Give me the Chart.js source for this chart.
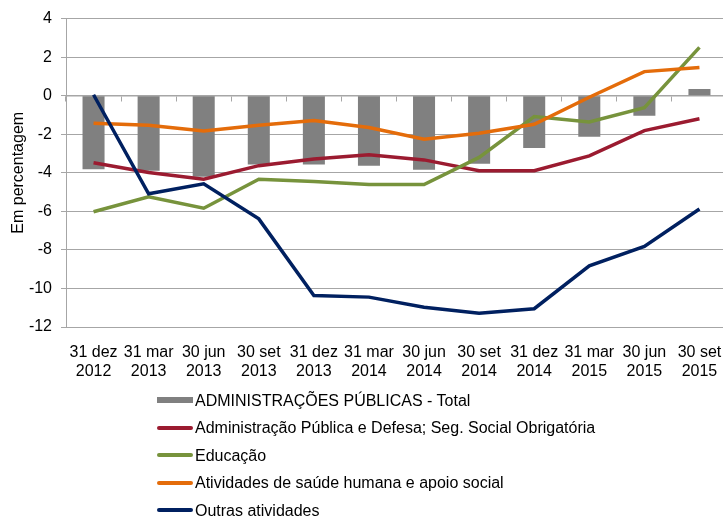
<!DOCTYPE html>
<html>
<head>
<meta charset="utf-8">
<script src="https://cdn.jsdelivr.net/npm/chart.js@4/dist/chart.umd.min.js"></script>
<style>
  html, body { margin: 0; padding: 0; overflow: hidden; background: #fff; }
  #wrap { position: relative; width: 723px; height: 517px; overflow: hidden; }
  #c { position: absolute; left: 0; top: 0; }
  #legend { position: absolute; left: 157px; top: 386.5px; font-family: "Liberation Sans", Arial, sans-serif; font-size: 16px; color: #000; }
  .item { position: relative; height: 27.5px; line-height: 27.5px; white-space: nowrap; }
  .sym { position: absolute; left: 0; width: 36px; }
  .txt { position: absolute; left: 38px; top: 0; }
</style>
</head>
<body>
<div id="wrap">
  <canvas id="c" width="728" height="517"></canvas>
  <div id="legend"></div>
</div>
<script>
const periods = ["31 dez","31 mar","30 jun","30 set","31 dez","31 mar","30 jun","30 set","31 dez","31 mar","30 jun","30 set"];
const years = ["2012","2013","2013","2013","2013","2014","2014","2014","2014","2015","2015","2015"];
const seriesNames = [
  "ADMINISTRAÇÕES PÚBLICAS - Total",
  "Administração Pública e Defesa; Seg. Social Obrigatória",
  "Educação",
  "Atividades de saúde humana e apoio social",
  "Outras atividades"
];
const total = [-3.81, -3.90, -4.20, -3.57, -3.57, -3.63, -3.84, -3.53, -2.71, -2.13, -1.04, 0.35];
const adminPublica = [-3.48, -3.98, -4.33, -3.63, -3.28, -3.07, -3.33, -3.89, -3.89, -3.12, -1.81, -1.20];
const educacao = [-6.02, -5.24, -5.84, -4.33, -4.45, -4.61, -4.61, -3.20, -1.08, -1.36, -0.62, 2.51];
const saude = [-1.43, -1.53, -1.83, -1.53, -1.29, -1.65, -2.26, -1.95, -1.48, -0.08, 1.25, 1.46];
const outras = [0.05, -5.09, -4.57, -6.39, -10.37, -10.45, -10.97, -11.28, -11.05, -8.83, -7.82, -5.88];

const labels = periods.map((p, i) => [p, years[i]]);
const colors = ["#808080", "#9b1b30", "#77933c", "#e46c0a", "#002060"];
const FONT = "'Liberation Sans', Arial, sans-serif";
const GRID = "#a6a6a6";

function lineDs(i, data, order) {
  return { type: "line", label: seriesNames[i], data, borderColor: colors[i], backgroundColor: colors[i],
    borderWidth: 3.5, pointRadius: 0, tension: 0, order, xAxisID: "x", borderJoinStyle: "miter" };
}

const chart = new Chart(document.getElementById("c"), {
  data: {
    labels,
    datasets: [
      { type: "bar", label: seriesNames[0], data: total, backgroundColor: colors[0], borderWidth: 0,
        barPercentage: 0.4, categoryPercentage: 1.0, order: 5, xAxisID: "x" },
      lineDs(1, adminPublica, 4),
      lineDs(2, educacao, 3),
      lineDs(3, saude, 2),
      lineDs(4, outras, 1)
    ]
  },
  options: {
    responsive: false,
    animation: false,
    devicePixelRatio: 1,
    layout: { padding: { top: 18, right: 1, bottom: 0, left: 0 } },
    plugins: { legend: { display: false }, tooltip: { enabled: false } },
    scales: {
      x: {
        type: "category", position: "bottom", offset: true,
        grid: { display: false, drawTicks: false },
        border: { display: false },
        ticks: { color: "#000", font: { family: FONT, size: 16 }, padding: 16, maxRotation: 0, autoSkip: false },
        afterFit: (s) => { s.height = 190; s.paddingLeft = 0; s.paddingRight = 0; }
      },
      x2: {
        type: "category", position: { y: 0 }, offset: true,
        grid: { offset: true, drawOnChartArea: false, drawTicks: true, tickLength: 5, color: GRID, lineWidth: 1 },
        border: { display: true, color: GRID, width: 1.5 },
        ticks: { display: false },
        afterFit: (s) => { s.paddingLeft = 0; s.paddingRight = 0; }
      },
      y: {
        min: -12, max: 4,
        ticks: { stepSize: 2, color: "#000", font: { family: FONT, size: 16 }, padding: 9 },
        grid: { color: GRID, lineWidth: 1, tickLength: 5 },
        border: { display: true, color: GRID, width: 1 },
        title: { display: true, text: "Em percentagem", color: "#000", font: { family: FONT, size: 16 }, padding: { top: 9, bottom: 0 } },
        afterFit: (s) => { s.width = 66; }
      }
    }
  }
});

// HTML legend built from chart datasets
const legend = document.getElementById("legend");
chart.data.datasets.forEach((ds) => {
  const item = document.createElement("div");
  item.className = "item";
  const sym = document.createElement("div");
  sym.className = "sym";
  const isBar = ds.type === "bar";
  const h = isBar ? 6 : 4;
  sym.style.height = h + "px";
  sym.style.top = (13.75 - h / 2) + "px";
  sym.style.background = ds.backgroundColor;
  if (!isBar) sym.style.borderRadius = "2px";
  const txt = document.createElement("div");
  txt.className = "txt";
  txt.textContent = ds.label;
  item.appendChild(sym);
  item.appendChild(txt);
  legend.appendChild(item);
});
</script>
</body>
</html>
